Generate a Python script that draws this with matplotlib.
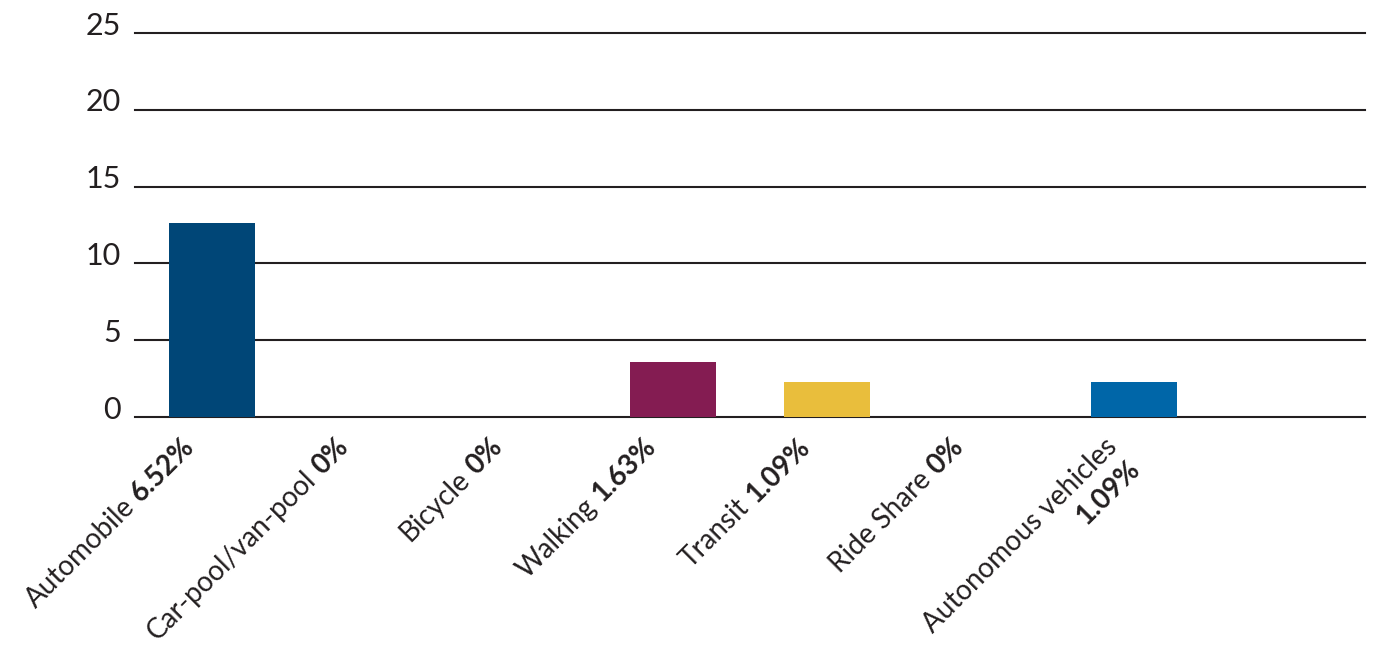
import numpy as np
import matplotlib
matplotlib.use("Agg")
import matplotlib.pyplot as plt
from matplotlib import transforms
from matplotlib.font_manager import FontProperties

categories = ["Automobile", "Car-pool/van-pool", "Bicycle", "Walking",
              "Transit", "Ride Share", "Autonomous vehicles"]
percent_labels = ["6.52%", "0%", "0%", "1.63%", "1.09%", "0%", "1.09%"]
values = [12.6, 0, 0, 3.6, 2.3, 0, 2.3]
bar_colors = ["#004677", "#004677", "#004677", "#841c52",
              "#e9be3c", "#0066a8", "#0066a8"]
y_ticks = [0, 5, 10, 15, 20, 25]

FAMILY = ["Lato", "DejaVu Sans"]
plt.rcParams["font.family"] = FAMILY
TXT = "#231f20"

W, H, DPI = 1376, 650, 100
fig = plt.figure(figsize=(W / DPI, H / DPI), dpi=DPI)
ax = fig.add_axes([135 / W, 1 - 417 / H, 1230 / W, 384 / H])

x = np.arange(len(categories))
ax.bar(x, values, width=0.56, color=bar_colors, zorder=3)

for v in y_ticks:
    ax.axhline(v, color=TXT, lw=1.5, zorder=1, clip_on=False)

ax.set_xlim(-0.5, 7.5)
ax.set_ylim(0, 25)
ax.set_yticks(y_ticks)
ax.set_yticklabels([])
ax.tick_params(axis="both", length=0)
ax.set_xticks([])
for s in ax.spines.values():
    s.set_visible(False)

# y tick labels drawn as text, baseline near the gridline
ylab_tr = transforms.offset_copy(
    transforms.blended_transform_factory(ax.transAxes, ax.transData),
    fig=fig, x=-10, y=-1.2, units="points")
for v in y_ticks:
    ax.text(0, v, str(v), transform=ylab_tr, ha="right", va="baseline",
            fontsize=22, color=TXT, clip_on=False)

# Rotated category labels with bold percentage
fs = 20
renderer = fig.canvas.get_renderer()
prop_n = FontProperties(family=FAMILY, size=fs, weight="normal")
prop_b = FontProperties(family=FAMILY, size=fs, weight="bold")
ang = np.deg2rad(45)
c, s_ = np.cos(ang), np.sin(ang)
base = transforms.blended_transform_factory(ax.transData, ax.transAxes)
space_pt = fs * 0.26
line_pt = fs * 1.15

for i, (name, pct) in enumerate(zip(categories, percent_labels)):
    dx0, dy0 = -22, -12  # points: top-right of first line
    if name == "Autonomous vehicles":
        t1 = transforms.offset_copy(base, fig=fig, x=dx0, y=dy0, units="points")
        ax.text(i, 0, name, transform=t1, rotation=45, rotation_mode="anchor",
                ha="right", va="top", fontproperties=prop_n, color=TXT,
                clip_on=False)
        t2 = transforms.offset_copy(base, fig=fig, x=dx0 + line_pt * s_,
                                    y=dy0 - line_pt * c, units="points")
        ax.text(i, 0, pct, transform=t2, rotation=45, rotation_mode="anchor",
                ha="right", va="top", fontproperties=prop_b, color=TXT,
                clip_on=False)
        continue
    tb = transforms.offset_copy(base, fig=fig, x=dx0, y=dy0, units="points")
    ax.text(i, 0, pct, transform=tb, rotation=45, rotation_mode="anchor",
            ha="right", va="top", fontproperties=prop_b, color=TXT,
            clip_on=False)
    wpx, _, _ = renderer.get_text_width_height_descent(pct, prop_b, ismath=False)
    wpt = wpx * 72 / DPI + space_pt
    tn = transforms.offset_copy(base, fig=fig, x=dx0 - wpt * c,
                                y=dy0 - wpt * s_, units="points")
    ax.text(i, 0, name, transform=tn, rotation=45, rotation_mode="anchor",
            ha="right", va="top", fontproperties=prop_n, color=TXT,
            clip_on=False)

fig.savefig("out.png", dpi=DPI, facecolor="white")
